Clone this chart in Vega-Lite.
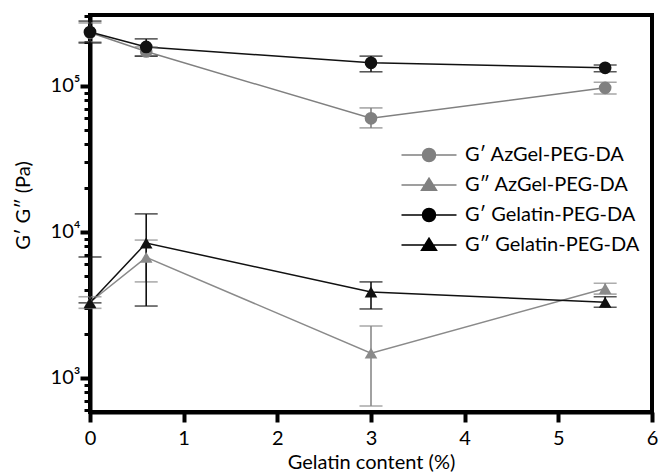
{
  "$schema": "https://vega.github.io/schema/vega-lite/v6.json",
  "width": 562,
  "height": 397,
  "autosize": {"type": "none"},
  "padding": {"left": 90, "top": 15, "right": 7, "bottom": 64},
  "background": "white",
  "config": {
    "font": "Lato",
    "view": {"stroke": "black", "strokeWidth": 4},
    "axis": {
      "domainColor": "black", "domainWidth": 4, "tickColor": "black",
      "labelColor": "black", "titleColor": "black", "grid": false,
      "labelFont": "Lato", "titleFont": "Lato", "labelFontSize": 20,
      "titleFontSize": 20, "titleFontWeight": "normal", "labelFlush": false,
      "labelOverlap": false, "labelBound": false
    }
  },
  "datasets": {
    "pts": [
      {"series": "G′ AzGel-PEG-DA", "kind": "G′", "x": 0, "y": 232000, "lo": 200000, "hi": 270000},
      {"series": "G′ AzGel-PEG-DA", "kind": "G′", "x": 0.6, "y": 172000, "lo": 160000, "hi": 185000},
      {"series": "G′ AzGel-PEG-DA", "kind": "G′", "x": 3, "y": 60000, "lo": 51600, "hi": 70700},
      {"series": "G′ AzGel-PEG-DA", "kind": "G′", "x": 5.5, "y": 97000, "lo": 88000, "hi": 106000},
      {"series": "G″ AzGel-PEG-DA", "kind": "G″", "x": 0, "y": 3300, "lo": 3000, "hi": 3600},
      {"series": "G″ AzGel-PEG-DA", "kind": "G″", "x": 0.6, "y": 6700, "lo": 4550, "hi": 8800},
      {"series": "G″ AzGel-PEG-DA", "kind": "G″", "x": 3, "y": 1480, "lo": 643, "hi": 2270},
      {"series": "G″ AzGel-PEG-DA", "kind": "G″", "x": 5.5, "y": 4100, "lo": 3750, "hi": 4450},
      {"series": "G′ Gelatin-PEG-DA", "kind": "G′", "x": 0, "y": 234000, "lo": 197000, "hi": 278000},
      {"series": "G′ Gelatin-PEG-DA", "kind": "G′", "x": 0.6, "y": 185000, "lo": 160000, "hi": 210000},
      {"series": "G′ Gelatin-PEG-DA", "kind": "G′", "x": 3, "y": 144000, "lo": 125000, "hi": 160000},
      {"series": "G′ Gelatin-PEG-DA", "kind": "G′", "x": 5.5, "y": 133000, "lo": 125000, "hi": 139000},
      {"series": "G″ Gelatin-PEG-DA", "kind": "G″", "x": 0, "y": 3270, "lo": 3270, "hi": 6740},
      {"series": "G″ Gelatin-PEG-DA", "kind": "G″", "x": 0.6, "y": 8400, "lo": 3110, "hi": 13300},
      {"series": "G″ Gelatin-PEG-DA", "kind": "G″", "x": 3, "y": 3880, "lo": 2970, "hi": 4550},
      {"series": "G″ Gelatin-PEG-DA", "kind": "G″", "x": 5.5, "y": 3300, "lo": 3050, "hi": 3600}
    ]
  },
  "data": {"name": "pts"},
  "encoding": {
    "x": {
      "field": "x", "type": "quantitative",
      "scale": {"domain": [0, 6], "nice": false, "zero": false},
      "axis": {"values": [0, 1, 2, 3, 4, 5, 6], "title": "Gelatin content (%)", "tickSize": 10, "tickWidth": 4, "labelPadding": 6, "titlePadding": 4}
    }
  },
  "layer": [
    {
      "mark": {"type": "line", "strokeWidth": 1.5},
      "encoding": {
        "y": {
          "field": "y", "type": "quantitative", "title": "G′ G″ (Pa)",
          "scale": {"type": "log", "domain": [585, 306000], "nice": false},
          "axis": {
            "values": [600, 700, 800, 900, 1000, 2000, 3000, 4000, 5000, 6000, 7000, 8000, 9000, 10000, 20000, 30000, 40000, 50000, 60000, 70000, 80000, 90000, 100000, 200000, 300000],
            "labelExpr": "datum.value == 1000 ? '10³' : datum.value == 10000 ? '10⁴' : datum.value == 100000 ? '10⁵' : ''",
            "tickSize": {"condition": {"test": "datum.value == 1000 || datum.value == 10000 || datum.value == 100000", "value": 10}, "value": 6},
            "tickWidth": {"condition": {"test": "datum.value == 1000 || datum.value == 10000 || datum.value == 100000", "value": 4}, "value": 3},
            "labelPadding": 0,
            "titleX": -67, "titleY": 190, "titleBaseline": "middle"
          }
        },
        "color": {
          "field": "series", "type": "nominal", "legend": null,
          "scale": {"range": ["#808080", "#111111", "#8a8a8a", "#111111"]}
        }
      }
    },
    {
      "mark": {"type": "errorbar", "ticks": {"size": 23, "thickness": 1.6}, "thickness": 1.6},
      "encoding": {
        "y": {"field": "lo", "type": "quantitative", "title": "G′ G″ (Pa)"},
        "y2": {"field": "hi"},
        "color": {"field": "series", "type": "nominal", "legend": null}
      }
    },
    {
      "transform": [{"filter": "datum.kind == 'G′'"}],
      "mark": {"type": "point", "filled": true, "opacity": 1, "size": 160, "shape": "circle"},
      "encoding": {
        "y": {"field": "y", "type": "quantitative", "title": "G′ G″ (Pa)"},
        "color": {"field": "series", "type": "nominal", "legend": null}
      }
    },
    {
      "transform": [{"filter": "datum.kind == 'G″'"}],
      "mark": {"type": "point", "filled": true, "opacity": 1, "size": 160, "shape": "triangle-up"},
      "encoding": {
        "y": {"field": "y", "type": "quantitative", "title": "G′ G″ (Pa)"},
        "color": {"field": "series", "type": "nominal", "legend": null}
      }
    },
    {
      "transform": [{"filter": "false"}],
      "mark": {"type": "point", "filled": true, "opacity": 1},
      "encoding": {
        "y": {"field": "y", "type": "quantitative", "title": "G′ G″ (Pa)"},
        "fill": {
          "field": "series", "type": "nominal",
          "scale": {"domain": ["G′ AzGel-PEG-DA", "G″ AzGel-PEG-DA", "G′ Gelatin-PEG-DA", "G″ Gelatin-PEG-DA"], "range": ["#808080", "#808080", "#000000", "#000000"]},
          "legend": {
            "title": null, "orient": "none", "legendX": 329, "legendY": 130, "padding": 0,
            "symbolSize": 225, "symbolStrokeWidth": 1.5, "labelOffset": 26, "rowPadding": 10,
            "labelFont": "Lato", "labelFontSize": 20, "labelColor": "black", "labelLimit": 0, "symbolOpacity": 1
          }
        },
        "stroke": {
          "field": "series", "type": "nominal",
          "scale": {"domain": ["G′ AzGel-PEG-DA", "G″ AzGel-PEG-DA", "G′ Gelatin-PEG-DA", "G″ Gelatin-PEG-DA"], "range": ["#808080", "#808080", "#000000", "#000000"]},
          "legend": {
            "title": null, "orient": "none", "legendX": 329, "legendY": 130, "padding": 0,
            "symbolSize": 225, "symbolStrokeWidth": 1.5, "labelOffset": 26, "rowPadding": 10,
            "labelFont": "Lato", "labelFontSize": 20, "labelColor": "black", "labelLimit": 0, "symbolOpacity": 1
          }
        },
        "shape": {
          "field": "series", "type": "nominal",
          "scale": {
            "domain": ["G′ AzGel-PEG-DA", "G″ AzGel-PEG-DA", "G′ Gelatin-PEG-DA", "G″ Gelatin-PEG-DA"],
            "range": [
              "M-3.667,0H3.667M-0.867,0A0.867,0.867,0,1,1,0.867,0A0.867,0.867,0,1,1,-0.867,0Z",
              "M-3.667,0H3.667M0,-0.9L1,0.7L-1,0.7Z",
              "M-3.667,0H3.667M-0.867,0A0.867,0.867,0,1,1,0.867,0A0.867,0.867,0,1,1,-0.867,0Z",
              "M-3.667,0H3.667M0,-0.9L1,0.7L-1,0.7Z"
            ]
          },
          "legend": {
            "title": null, "orient": "none", "legendX": 329, "legendY": 130, "padding": 0,
            "symbolSize": 225, "symbolStrokeWidth": 1.5, "labelOffset": 26, "rowPadding": 10,
            "labelFont": "Lato", "labelFontSize": 20, "labelColor": "black", "labelLimit": 0, "symbolOpacity": 1
          }
        }
      }
    }
  ]
}
